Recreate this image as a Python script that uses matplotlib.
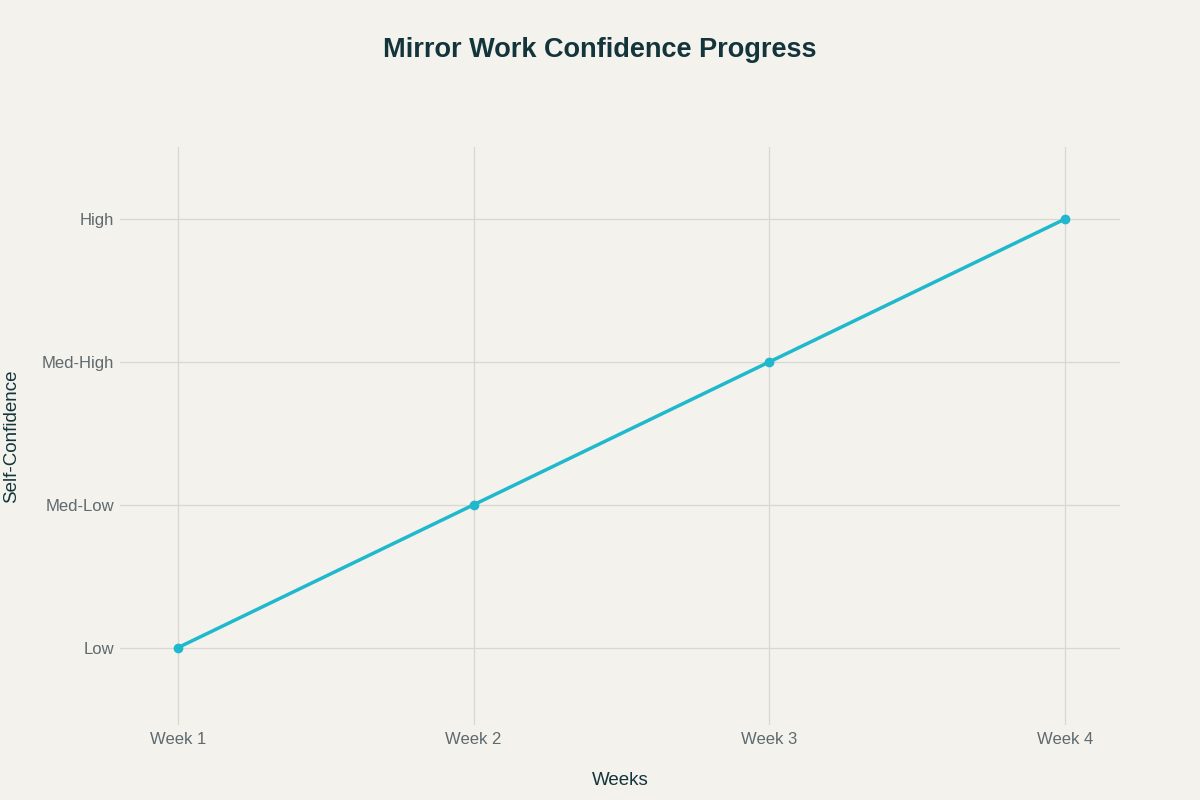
import matplotlib.pyplot as plt

# chart data
weeks = ["Week 1", "Week 2", "Week 3", "Week 4"]
levels = ["Low", "Med-Low", "Med-High", "High"]
confidence = [0, 1, 2, 3]

bg = "#F3F2EC"
plt.rcParams["font.family"] = ["Liberation Sans", "DejaVu Sans"]

fig = plt.figure(figsize=(12, 8), dpi=100, facecolor=bg)
ax = fig.add_axes([0.1, 0.094, 0.8333, 0.722], facecolor=bg)

x = list(range(len(weeks)))
ax.plot(x, confidence, color="#1FB8CD", linewidth=2.5, marker="o",
        markersize=6, zorder=3)

ax.set_xlim(-0.196, 3.186)
ax.set_ylim(-0.54, 3.503)
ax.set_xticks(x)
ax.set_xticklabels(weeks)
ax.set_yticks(range(len(levels)))
ax.set_yticklabels(levels)

ax.grid(True, color="#D8D8D3", linewidth=0.9)
ax.set_axisbelow(True)
for s in ax.spines.values():
    s.set_visible(False)
ax.tick_params(length=0, labelsize=12, labelcolor="#5E6A6E")
ax.tick_params(axis="y", pad=4)
ax.tick_params(axis="x", pad=5)

ax.set_xlabel("Weeks", fontsize=13.5, color="#13343B", labelpad=18)
ax.set_ylabel("Self-Confidence", fontsize=13.5, color="#13343B", labelpad=16)

fig.text(0.5, 0.938, "Mirror Work Confidence Progress", ha="center",
         va="center", fontsize=19.5, fontweight="bold", color="#13343B")

fig.savefig("out.png", dpi=100, facecolor=bg)
